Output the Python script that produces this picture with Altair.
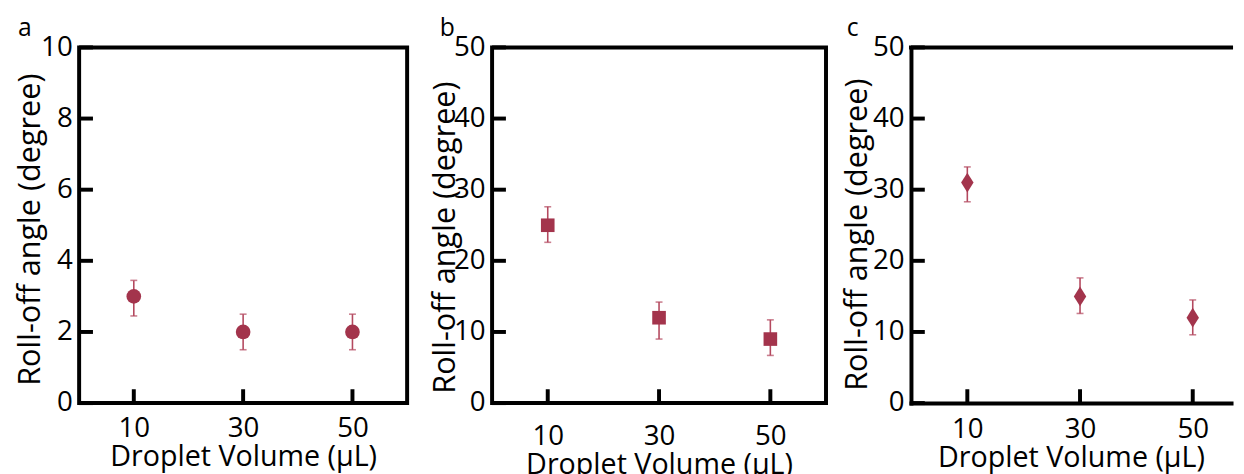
import altair as alt
import pandas as pd

# ---- data ----
volumes = [10, 30, 50]

angle_a = [3, 2, 2]
low_a = [2.45, 1.5, 1.5]
high_a = [3.45, 2.5, 2.5]

angle_b = [25, 12, 9]
low_b = [22.6, 9.0, 6.7]
high_b = [27.6, 14.2, 11.7]

angle_c = [31, 15, 12]
low_c = [28.3, 12.6, 9.6]
high_c = [33.2, 17.6, 14.5]

x_ticks = [10, 30, 50]
y_ticks_a = [0, 2, 4, 6, 8, 10]
y_ticks_bc = [0, 10, 20, 30, 40, 50]

FONT = "Open Sans"
MARK = "#A3344C"
ERR = "#B4495F"
H = 360


def panel(letter, angle, low, high, y_ticks, y_max, x_max, width, shape, size,
          letter_dx, title_x, title_y, label_pad_x, border=True):
    df = pd.DataFrame({"v": volumes, "a": angle, "lo": low, "hi": high})
    xs = alt.Scale(domain=[0, x_max], nice=False, zero=False)
    ys = alt.Scale(domain=[0, y_max], nice=False)
    xaxis = alt.Axis(values=x_ticks, ticks=False, domain=not border,
                     domainColor="black", domainWidth=4, domainCap="square",
                     grid=False, labelFontSize=28, labelPadding=label_pad_x,
                     title="Droplet Volume (μL)", titleFontSize=29,
                     titleFontWeight="normal", titlePadding=0)
    yaxis = alt.Axis(values=y_ticks, ticks=False, domain=not border,
                     domainColor="black", domainWidth=4, domainCap="square",
                     grid=False, labelFontSize=28, labelPadding=7,
                     title="Roll-off angle (degree)", titleFontSize=31,
                     titleFontWeight="normal", titleX=title_x, titleY=title_y,
                     titleBaseline="alphabetic")

    err = alt.Chart(df).mark_errorbar(ticks=True, size=7, thickness=1.6, color=ERR).encode(
        x=alt.X("v:Q", scale=xs, axis=xaxis),
        y=alt.Y("lo:Q", scale=ys, axis=yaxis),
        y2="hi:Q",
    )
    pts = alt.Chart(df).mark_point(shape=shape, size=size, filled=True, color=MARK, opacity=1).encode(
        x=alt.X("v:Q", scale=xs, axis=xaxis),
        y=alt.Y("a:Q", scale=ys, axis=yaxis),
    )
    ytk = alt.Chart(pd.DataFrame({"t": y_ticks})).mark_rule(color="black", strokeWidth=4).encode(
        y=alt.Y("t:Q", scale=ys, axis=yaxis),
        x=alt.value(0),
        x2=alt.value(14),
    )
    xtk = alt.Chart(pd.DataFrame({"t": x_ticks})).mark_rule(color="black", strokeWidth=4).encode(
        x=alt.X("t:Q", scale=xs, axis=xaxis),
        y=alt.value(H),
        y2=alt.value(H - 14),
    )
    layers = [err, pts, ytk, xtk]
    if not border:
        # panel c runs off the right edge in the reference: only top/left/bottom frame
        top = alt.Chart(pd.DataFrame({"t": [0]})).mark_rule(
            color="black", strokeWidth=4, strokeCap="square"
        ).encode(x=alt.value(0), x2=alt.value(width), y=alt.value(0))
        layers.append(top)
    ch = alt.layer(*layers).properties(
        width=width,
        height=H,
        title=alt.TitleParams(letter, anchor="start", fontSize=25, fontWeight="normal",
                              font=FONT, color="black", dx=letter_dx, offset=-7),
    )
    if not border:
        ch = ch.properties(view=alt.ViewBackground(stroke="transparent"))
    return ch


pa = panel("a", angle_a, low_a, high_a, y_ticks_a, 10, 60, 332, "circle", 220,
           3, -40, 184, 12)
pb = panel("b", angle_b, low_b, high_b, y_ticks_bc, 50, 60, 338, "square", 190,
           10, -38, 192, 20)
pc = panel("c", angle_c, low_c, high_c, y_ticks_bc, 50, 56.8, 324,
           "M0,-1L0.63,0L0,1L-0.63,0Z", 400, 5, -45, 189, 13, border=False)

chart = alt.hconcat(pa, pb, pc, spacing=86, bounds="flush").properties(
    padding={"left": 5, "top": 3, "right": 0, "bottom": 0}
).configure_axis(
    labelFont=FONT, titleFont=FONT, labelColor="black", titleColor="black"
).configure_view(
    stroke="black", strokeWidth=4
).configure_title(font=FONT)

chart.save("out.html", embed_options={"renderer": "svg", "actions": False})
